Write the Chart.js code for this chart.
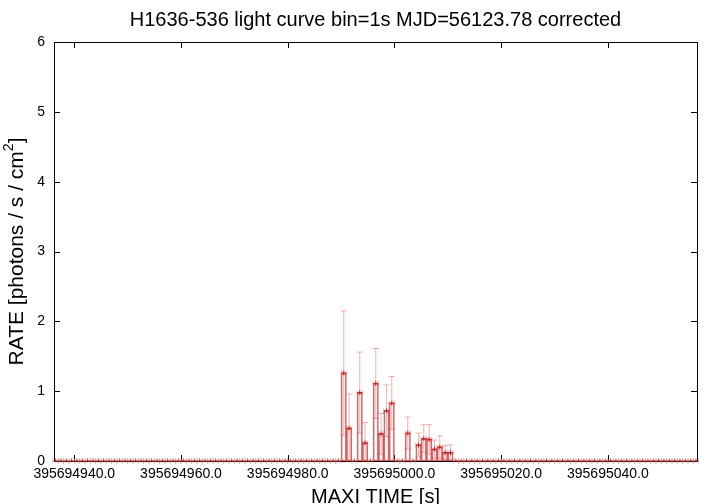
<!DOCTYPE html>
<html>
<head>
<meta charset="utf-8">
<script src="https://cdn.jsdelivr.net/npm/chart.js@4/dist/chart.umd.min.js"></script>
<style>
  html, body { margin: 0; padding: 0; background: #fff; }
  #lc { display: block; }
</style>
</head>
<body>
<canvas id="lc" width="720" height="504"></canvas>
<script>
// light curve, 1 s bins starting at tStart (bin centres)
const tStart = 395694936.5;
const binSize = 1;

const rates = [
  0, 0, 0, 0, 0, 0, 0, 0, 0, 0, 0, 0, 0, 0, 0, 0, 0, 0, 0, 0,
  0, 0, 0, 0, 0, 0, 0, 0, 0, 0, 0, 0, 0, 0, 0, 0, 0, 0, 0, 0,
  0, 0, 0, 0, 0, 0, 0, 0, 0, 0, 0, 0, 0, 0, 1.26, 0.47, 0, 0.98, 0.26, 0,
  1.11, 0.39, 0.72, 0.83, 0, 0, 0.40, 0, 0.23, 0.32, 0.31, 0.17, 0.20, 0.12, 0.12, 0, 0, 0, 0, 0,
  0, 0, 0, 0, 0, 0, 0, 0, 0, 0, 0, 0, 0, 0, 0, 0, 0, 0, 0, 0,
  0, 0, 0, 0, 0, 0, 0, 0, 0, 0, 0, 0, 0, 0, 0, 0, 0, 0, 0, 0,
  0
];

const errors = [
  0, 0, 0, 0, 0, 0, 0, 0, 0, 0, 0, 0, 0, 0, 0, 0, 0, 0, 0, 0,
  0, 0, 0, 0, 0, 0, 0, 0, 0, 0, 0, 0, 0, 0, 0, 0, 0, 0, 0, 0,
  0, 0, 0, 0, 0, 0, 0, 0, 0, 0, 0, 0, 0, 0, 0.89, 0.49, 0, 0.58, 0.29, 0,
  0.50, 0.29, 0.37, 0.38, 0, 0, 0.23, 0, 0.17, 0.20, 0.21, 0.13, 0.16, 0.10, 0.11, 0, 0, 0, 0, 0,
  0, 0, 0, 0, 0, 0, 0, 0, 0, 0, 0, 0, 0, 0, 0, 0, 0, 0, 0, 0,
  0, 0, 0, 0, 0, 0, 0, 0, 0, 0, 0, 0, 0, 0, 0, 0, 0, 0, 0, 0,
  0
];

const xTickValues = [395694940, 395694960, 395694980, 395695000, 395695020, 395695040];
const yTickValues = [0, 1, 2, 3, 4, 5, 6];

const titleText = 'H1636-536 light curve bin=1s MJD=56123.78 corrected';
const xTitle = 'MAXI TIME [s]';

const times = rates.map((_, i) => tStart + i * binSize);
const points = times.map((t, i) => ({ x: t, y: rates[i] }));

const FONT = '"Liberation Sans", Arial, Helvetica, sans-serif';

// gnuplot-ish frame, inward ticks, error bars and titles
const gnuplotLook = {
  id: 'gnuplotLook',
  beforeDatasetsDraw(chart) {
    const ctx = chart.ctx;
    const a = chart.chartArea;
    const xs = chart.scales.x, ys = chart.scales.y;
    ctx.save();
    ctx.strokeStyle = '#000';
    ctx.lineWidth = 1;
    ctx.strokeRect(a.left + 0.5, a.top + 0.5, a.right - a.left, a.bottom - a.top);
    ctx.beginPath();
    xTickValues.forEach(v => {
      const px = Math.round(xs.getPixelForValue(v)) + 0.5;
      ctx.moveTo(px, a.bottom); ctx.lineTo(px, a.bottom - 6);
      ctx.moveTo(px, a.top); ctx.lineTo(px, a.top + 6);
    });
    yTickValues.forEach(v => {
      const py = Math.round(ys.getPixelForValue(v)) + 0.5;
      ctx.moveTo(a.left, py); ctx.lineTo(a.left + 6, py);
      ctx.moveTo(a.right, py); ctx.lineTo(a.right - 6, py);
    });
    ctx.stroke();

    // error bars (x: bin half width, y: rate error)
    ctx.strokeStyle = 'rgba(228, 100, 100, 0.5)';
    ctx.beginPath();
    times.forEach((t, i) => {
      const cx = xs.getPixelForValue(t);
      const x0 = xs.getPixelForValue(t - binSize / 2);
      const x1 = xs.getPixelForValue(t + binSize / 2);
      const cy = ys.getPixelForValue(rates[i]);
      const yTop = ys.getPixelForValue(rates[i] + errors[i]);
      const yBot = ys.getPixelForValue(Math.max(0, rates[i] - errors[i]));
      ctx.moveTo(x0, cy); ctx.lineTo(x1, cy);
      ctx.moveTo(x0, cy - 2.5); ctx.lineTo(x0, cy + 2.5);
      ctx.moveTo(x1, cy - 2.5); ctx.lineTo(x1, cy + 2.5);
      if (errors[i] > 0) {
        ctx.moveTo(cx, yTop); ctx.lineTo(cx, yBot);
        ctx.moveTo(cx - 3, yTop); ctx.lineTo(cx + 3, yTop);
        ctx.moveTo(cx - 3, yBot); ctx.lineTo(cx + 3, yBot);
      }
    });
    ctx.stroke();
    ctx.restore();
  },
  afterDraw(chart) {
    const ctx = chart.ctx;
    const a = chart.chartArea;
    const cx = (a.left + a.right) / 2;
    ctx.save();
    ctx.fillStyle = '#000';
    ctx.textAlign = 'center';
    ctx.textBaseline = 'middle';
    ctx.font = '20px ' + FONT;
    ctx.fillText(titleText, cx, 20);
    ctx.fillText(xTitle, cx, 497);

    // y title with superscript 2
    ctx.translate(17, (a.top + a.bottom) / 2);
    ctx.rotate(-Math.PI / 2);
    const main = 'RATE [photons / s / cm';
    ctx.font = '21px ' + FONT;
    const wMain = ctx.measureText(main).width;
    const wEnd = ctx.measureText(']').width;
    ctx.font = '14px ' + FONT;
    const wSup = ctx.measureText('2').width;
    let x = -(wMain + wSup + wEnd) / 2;
    ctx.textAlign = 'left';
    ctx.font = '21px ' + FONT;
    ctx.fillText(main, x, 0);
    x += wMain;
    ctx.font = '14px ' + FONT;
    ctx.fillText('2', x, -8);
    x += wSup;
    ctx.font = '21px ' + FONT;
    ctx.fillText(']', x, 0);
    ctx.restore();
  }
};

new Chart(document.getElementById('lc').getContext('2d'), {
  type: 'bar',
  data: {
    datasets: [
      {
        type: 'bar',
        data: points,
        backgroundColor: 'rgba(0,0,0,0)',
        borderColor: 'rgba(200, 40, 40, 0.7)',
        borderWidth: 1,
        borderSkipped: false,
        barPercentage: 1,
        categoryPercentage: 1,
        order: 2
      },
      {
        type: 'line',
        data: points,
        showLine: false,
        pointStyle: 'cross',
        pointRadius: 2.5,
        pointBorderWidth: 1,
        pointBorderColor: 'rgba(190, 20, 20, 0.8)',
        order: 1
      }
    ]
  },
  options: {
    responsive: false,
    animation: false,
    layout: { padding: { top: 42, right: 23, left: 0, bottom: 0 } },
    plugins: {
      legend: { display: false },
      tooltip: { enabled: false },
      title: { display: false }
    },
    scales: {
      x: {
        type: 'linear',
        offset: false,
        min: 395694936.2,
        max: 395695056.7,
        grid: { display: false, drawTicks: false, offset: false },
        border: { display: false },
        afterBuildTicks: scale => { scale.ticks = xTickValues.map(v => ({ value: v })); },
        afterFit: scale => { scale.height = 43; },
        ticks: {
          autoSkip: false,
          maxRotation: 0,
          padding: 5,
          color: '#000',
          font: { family: FONT, size: 14 },
          callback: v => v.toFixed(1)
        }
      },
      y: {
        min: 0,
        max: 6,
        grid: { display: false, drawTicks: false },
        border: { display: false },
        afterBuildTicks: scale => { scale.ticks = yTickValues.map(v => ({ value: v })); },
        afterFit: scale => { scale.width = 54; },
        ticks: {
          padding: 9,
          color: '#000',
          font: { family: FONT, size: 14 },
          callback: v => String(v)
        }
      }
    }
  },
  plugins: [gnuplotLook]
});
</script>
</body>
</html>
